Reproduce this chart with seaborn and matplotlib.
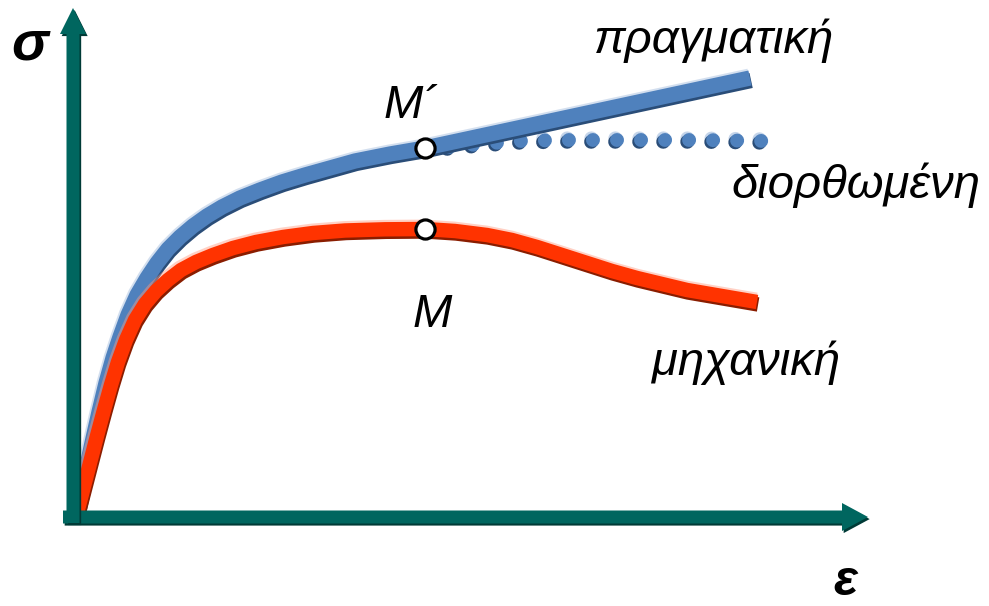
import matplotlib
matplotlib.use("Agg")
import matplotlib.pyplot as plt
import matplotlib.patheffects as pe
from matplotlib.patches import FancyArrow
import seaborn as sns
import pandas as pd

# True stress-strain curve (πραγματική), arbitrary units
true_eps = [1, 9, 17, 24, 31, 38, 45, 53, 62, 72, 82, 93, 105, 118, 132, 147,
            165, 185, 207, 230, 255, 280, 315, 350, 675]
true_sig = [0, 37, 74, 105, 134, 159, 180, 202, 222, 239, 254, 268, 280, 291,
            301, 310, 319, 327, 335, 342, 349, 356, 363, 369, 439]

# Engineering stress-strain curve (μηχανική)
eng_eps = [1, 8, 15, 22, 29, 36, 43, 51, 60, 70, 81, 93, 106, 121, 138, 158,
           181, 208, 238, 270, 310, 350, 380, 412, 437, 462, 487, 512, 537,
           562, 587, 612, 647, 682]
eng_sig = [0, 27, 54, 81, 107, 132, 155, 177, 197, 213, 226, 237, 247, 255,
           262, 269, 275, 280, 284, 286.5, 287.7, 288, 286, 282, 277, 270, 262,
           254, 246, 239, 233, 227, 221, 215]

# Corrected curve after necking (διορθωμένη)
corr_eps = [350, 375, 405, 445, 485, 545, 625, 692]
corr_sig = [369, 370, 373, 376, 377, 377, 377, 376]

true_df = pd.DataFrame({"ε": true_eps, "σ": true_sig})
eng_df = pd.DataFrame({"ε": eng_eps, "σ": eng_sig})
corr_df = pd.DataFrame({"ε": corr_eps, "σ": corr_sig})

sns.set_theme(style="white")
plt.rcParams["font.family"] = ["Liberation Sans", "DejaVu Sans"]

BLUE = "#4F81BD"
BLUE_DARK = "#2a4d78"
BLUE_LIGHT = "#9fb9dc"
RED = "#FF3300"
RED_DARK = "#8a1d00"
RED_LIGHT = "#ff9a80"
TEAL = "#00665F"
TEAL_DARK = "#003a36"

fig = plt.figure(figsize=(9.89, 6.06), dpi=100)
ax = fig.add_axes([0, 0, 1, 1])
ax.set_xlim(-75, 914)
ax.set_ylim(-89, 517)
ax.axis("off")

# Axes arrows, drawn over the curves at the origin
arrow_fx = [pe.withSimplePatchShadow(offset=(1.2, -1.5), shadow_rgbFace=TEAL_DARK, alpha=1)]
xa = FancyArrow(-12, 0, 805, 0, width=13, head_width=28, head_length=26,
                length_includes_head=True, color=TEAL, lw=0, zorder=5)
ya = FancyArrow(-2, -6, 0, 515, width=13, head_width=26, head_length=26,
                length_includes_head=True, color=TEAL, lw=0, zorder=5)
for a in (xa, ya):
    a.set_path_effects(arrow_fx)
    ax.add_patch(a)


def fx(light, dark):
    return [pe.Stroke(offset=(-0.6, 0.8), linewidth=12.0, foreground=light, alpha=0.45),
            pe.SimpleLineShadow(offset=(0.8, -1.8), shadow_color=dark, alpha=1, rho=1),
            pe.Normal()]


# Corrected (dotted) curve
sns.lineplot(data=corr_df, x="ε", y="σ", ax=ax, sort=False, estimator=None,
             color=BLUE, lw=10.0, linestyle=(0, (0.01, 1.72)),
             dash_capstyle="round", zorder=2,
             path_effects=[pe.Stroke(offset=(-1.2, 1.2), linewidth=10.0, foreground=BLUE_LIGHT, alpha=0.6),
                           pe.SimpleLineShadow(offset=(-1.3, -1.3), shadow_color=BLUE_DARK, alpha=1, rho=1),
                           pe.Normal()])

# True curve
sns.lineplot(data=true_df, x="ε", y="σ", ax=ax, sort=False, estimator=None,
             color=BLUE, lw=11.0, solid_capstyle="butt", solid_joinstyle="round",
             zorder=3, path_effects=fx(BLUE_LIGHT, BLUE_DARK))

# Engineering curve
sns.lineplot(data=eng_df, x="ε", y="σ", ax=ax, sort=False, estimator=None,
             color=RED, lw=10.4, solid_capstyle="butt", solid_joinstyle="round",
             zorder=4, path_effects=fx(RED_LIGHT, RED_DARK))

# Ultimate strength point M and its counterpart M´ on the true curve
i_m = eng_sig.index(max(eng_sig))
m_eps = eng_eps[i_m]
m_sig = eng_sig[i_m]
mp_sig = true_sig[true_eps.index(m_eps)]
ax.scatter([m_eps, m_eps], [mp_sig, m_sig], s=190, facecolor="white",
           edgecolor="black", linewidth=2.3, zorder=6)

# Labels
ax.text(-45, 472, "σ", fontsize=40, fontweight="bold", fontstyle="italic",
        ha="center", va="center", color="black")
ax.text(770, -88, "ε", fontsize=36, fontweight="bold", fontstyle="italic",
        ha="center", va="bottom", color="black")
ax.text(639, 464, "πραγματική", fontsize=34, fontstyle="italic",
        ha="center", va="baseline", color="black")
ax.text(781, 319, "διορθωμένη", fontsize=34, fontstyle="italic",
        ha="center", va="baseline", color="black")
ax.text(671, 142, "μηχανική", fontsize=34, fontstyle="italic",
        ha="center", va="baseline", color="black")
ax.text(m_eps - 14, 399, "M´", fontsize=34, fontstyle="italic",
        ha="center", va="baseline", color="black")
ax.text(m_eps + 7, 190, "M", fontsize=34, fontstyle="italic",
        ha="center", va="baseline", color="black")

fig.savefig("out.png", dpi=100, facecolor="white")
